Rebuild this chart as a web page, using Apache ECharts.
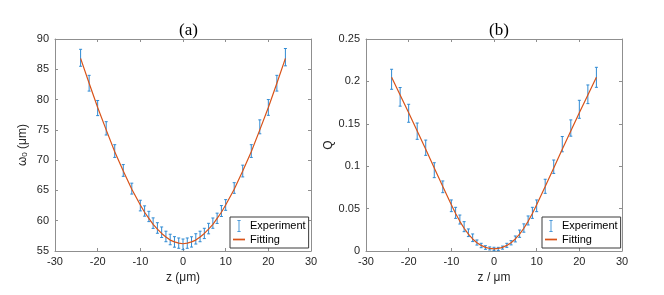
<!DOCTYPE html>
<html>
<head>
<meta charset="utf-8">
<script src="https://cdn.jsdelivr.net/npm/echarts@6/dist/echarts.min.js"></script>
<style>
html,body{margin:0;padding:0;background:#fff;}
#chart{width:664px;height:295px;}
</style>
</head>
<body>
<div id="chart"></div>
<script>
// ---- data ----
const zPos = [-24,-22,-20,-18,-16,-14,-12,-10,-9,-8,-7,-6,-5,-4,-3,-2,-1,0,1,2,3,4,5,6,7,8,9,10,12,14,16,18,20,22,24];
const waistExp = [86.9,82.7,78.6,75.25,71.5,68.3,65.3,62.5,61.6,60.7,59.6,58.8,58.1,57.4,56.9,56.5,56.3,56.1,56.3,56.5,57.0,57.4,57.9,58.7,59.6,60.4,61.6,62.6,65.4,68.2,71.5,75.5,78.7,82.7,87.0];
const waistErr = [1.4,1.3,1.25,1.1,1.05,0.97,0.9,0.88,0.85,0.85,0.87,0.87,0.87,0.87,0.87,0.87,0.85,0.88,0.85,0.85,0.85,0.87,0.85,0.87,0.85,0.85,0.9,0.88,0.88,0.97,1.05,1.15,1.3,1.3,1.43];
const waistFit = [86.8,82.7,78.7,75.0,71.4,68.2,65.2,62.6,61.4,60.4,59.4,58.6,57.9,57.3,56.8,56.5,56.3,56.2,56.3,56.5,56.8,57.3,57.9,58.6,59.4,60.4,61.4,62.6,65.2,68.2,71.4,75.0,78.7,82.7,86.8];
const qExp = [0.2025,0.1818,0.1624,0.1413,0.1218,0.0953,0.0757,0.0533,0.0450,0.0371,0.0287,0.0215,0.0156,0.0100,0.0065,0.0041,0.0030,0.0024,0.0025,0.0040,0.0067,0.0097,0.0142,0.0204,0.0271,0.0360,0.0450,0.0533,0.0763,0.0994,0.1260,0.1450,0.1671,0.1848,0.2048];
const qErr = [0.0118,0.011,0.0106,0.0096,0.009,0.0088,0.0069,0.0069,0.0065,0.0053,0.0059,0.0045,0.0045,0.003,0.0026,0.0021,0.0018,0.002,0.0018,0.0018,0.0024,0.0025,0.0035,0.0043,0.0049,0.0053,0.0065,0.0069,0.0083,0.0079,0.009,0.0096,0.0106,0.011,0.0118];
const qFit = [0.2050,0.1840,0.1630,0.1415,0.1200,0.0980,0.0760,0.0545,0.0443,0.0350,0.0268,0.0198,0.0142,0.0098,0.0066,0.0043,0.0030,0.0025,0.0030,0.0043,0.0066,0.0098,0.0142,0.0198,0.0268,0.0350,0.0443,0.0545,0.0760,0.0980,0.1200,0.1415,0.1630,0.1840,0.2050];
const panelTitles = ['(a)', '(b)'];
const xNames = ['z (\u03bcm)', 'z / \u03bcm'];
const seriesNames = ['Experiment', 'Fitting'];

// ---- styles ----
const BLUE = '#2f8ad3';
const ORANGE = '#D95319';
const AXIS = '#8f8f8f';
const LABEL = '#262626';
const SANS = 'Liberation Sans, Arial, sans-serif';
const SERIF = 'Liberation Serif, Times New Roman, serif';

function errRender(params, api) {
  const x = api.value(0), y = api.value(1), e = api.value(2);
  const t = api.coord([x, y + e]);
  const b = api.coord([x, y - e]);
  const hw = 1.5;
  const st = {stroke: BLUE, lineWidth: 1, fill: null};
  return {type: 'group', children: [
    {type: 'line', shape: {x1: t[0], y1: t[1], x2: b[0], y2: b[1]}, style: st},
    {type: 'line', shape: {x1: t[0]-hw, y1: t[1], x2: t[0]+hw, y2: t[1]}, style: st},
    {type: 'line', shape: {x1: b[0]-hw, y1: b[1], x2: b[0]+hw, y2: b[1]}, style: st}
  ]};
}

const grids = [
  {left: 55, top: 39, width: 256, height: 212},
  {left: 366, top: 39, width: 256, height: 212}
];

function xAxesFor(gi) {
  const base = {
    gridIndex: gi, type: 'value', min: -30, max: 30, interval: 10,
    axisLine: {show: true, onZero: false, lineStyle: {color: AXIS, width: 1}},
    axisTick: {show: true, inside: true, length: 3, lineStyle: {color: AXIS}},
    splitLine: {show: false}
  };
  return [
    Object.assign({}, base, {
      position: 'bottom', name: xNames[gi], nameLocation: 'middle', nameGap: 20,
      nameTextStyle: {fontFamily: SANS, fontSize: 12, color: LABEL},
      axisLabel: {fontFamily: SANS, fontSize: 11, color: LABEL, margin: 5}
    }),
    Object.assign({}, base, {position: 'top', axisLabel: {show: false}})
  ];
}

function yAxesFor(gi) {
  const rng = gi === 0 ? {min: 55, max: 90, interval: 5} : {min: 0, max: 0.25, interval: 0.05};
  const base = Object.assign({
    gridIndex: gi, type: 'value',
    axisLine: {show: true, onZero: false, lineStyle: {color: AXIS, width: 1}},
    axisTick: {show: true, inside: true, length: 3, lineStyle: {color: AXIS}},
    splitLine: {show: false}
  }, rng);
  const nm = gi === 0 ? '\u03c9{sub|0} (\u03bcm)' : 'Q';
  return [
    Object.assign({}, base, {
      position: 'left', name: nm, nameLocation: 'middle', nameGap: gi === 0 ? 26 : 28,
      nameTextStyle: {fontFamily: SANS, fontSize: 12, color: LABEL,
        rich: {sub: {fontFamily: SANS, fontSize: 8, color: LABEL, padding: [5, 0, 0, 0]}}},
      axisLabel: {fontFamily: SANS, fontSize: 11, color: LABEL, margin: 6}
    }),
    Object.assign({}, base, {position: 'right', axisLabel: {show: false}})
  ];
}

const xAxis = xAxesFor(0).concat(xAxesFor(1));
const yAxis = yAxesFor(0).concat(yAxesFor(1));

const series = [];
[[waistExp, waistErr, waistFit], [qExp, qErr, qFit]].forEach(function (set, gi) {
  const exp = set[0], err = set[1], fit = set[2];
  series.push({
    name: seriesNames[0], type: 'custom', xAxisIndex: gi * 2, yAxisIndex: gi * 2,
    itemStyle: {color: BLUE}, renderItem: errRender,
    encode: {x: 0, y: 1},
    data: zPos.map(function (z, i) { return [z, exp[i], err[i]]; }),
    z: 2
  });
  series.push({
    name: seriesNames[1], type: 'line', xAxisIndex: gi * 2, yAxisIndex: gi * 2,
    symbol: 'none', lineStyle: {color: ORANGE, width: 1.2}, itemStyle: {color: ORANGE},
    data: zPos.map(function (z, i) { return [z, fit[i]]; }),
    z: 3
  });
});

const errIcon = 'path://M0,0H4V1H0Z M1.5,0H2.5V14H1.5Z M0,13H4V14H0Z';
const lineIcon = 'path://M0,0H14V2H0Z';
function legendAt(left) {
  return {
    orient: 'vertical', left: left, top: 217,
    padding: [3, 3, 3, 3], itemGap: 2, itemWidth: 12, itemHeight: 12,
    borderColor: '#3a3a3a', borderWidth: 1, backgroundColor: '#fff',
    selectedMode: false,
    textStyle: {fontFamily: SANS, fontSize: 11, color: '#000'},
    data: [
      {name: seriesNames[0], icon: errIcon, itemStyle: {color: BLUE, borderWidth: 0}},
      {name: seriesNames[1], icon: lineIcon, itemStyle: {color: ORANGE, borderColor: ORANGE, borderWidth: 0}}
    ]
  };
}

const option = {
  animation: false,
  backgroundColor: '#fff',
  title: [
    {text: panelTitles[0], left: 174, top: 17,
     textStyle: {fontFamily: SERIF, fontSize: 17, fontWeight: 'normal', color: '#000'}},
    {text: panelTitles[1], left: 484, top: 17,
     textStyle: {fontFamily: SERIF, fontSize: 17, fontWeight: 'normal', color: '#000'}}
  ],
  legend: [legendAt(230), legendAt(542)],
  grid: grids,
  xAxis: xAxis,
  yAxis: yAxis,
  series: series
};

const chart = echarts.init(document.getElementById('chart'), null, {renderer: 'canvas'});
chart.setOption(option);
</script>
</body>
</html>
